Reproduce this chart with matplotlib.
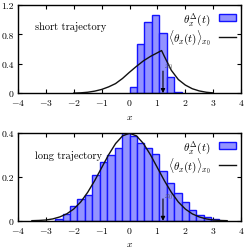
import numpy as np
import matplotlib
matplotlib.use('Agg')
import matplotlib.pyplot as plt

plt.rcParams['font.family'] = 'serif'
plt.rcParams['font.serif'] = ['cmr10']
plt.rcParams['mathtext.fontset'] = 'cm'
plt.rcParams['axes.formatter.use_mathtext'] = True
plt.rcParams['font.size'] = 7

bar_face = '#9393ff'
bar_edge = '#1414ff'

# ---- short trajectory (top)
short_left = [0.0, 0.267, 0.533, 0.8, 1.067, 1.333, 1.6]
short_hist = [0.08, 0.67, 0.97, 1.07, 0.82, 0.22, 0.02]
short_cx = [-2.0, -1.75, -1.5, -1.25, -1.0, -0.75, -0.5, -0.25, 0.0, 0.25, 0.5,
            0.75, 1.0, 1.15, 1.25, 1.5, 1.75, 2.0, 2.25, 2.5, 2.75, 3.0]
short_cy = [0.0, 0.004, 0.012, 0.027, 0.05, 0.085, 0.13, 0.2, 0.285, 0.365, 0.44,
            0.5, 0.55, 0.58, 0.5, 0.31, 0.185, 0.11, 0.06, 0.03, 0.012, 0.003]

# ---- long trajectory (bottom)
long_left = [-2.667, -2.4, -2.133, -1.867, -1.6, -1.333, -1.067, -0.8, -0.533, -0.267, 0.0,
             0.267, 0.533, 0.8, 1.067, 1.333, 1.6, 1.867, 2.133, 2.4, 2.667, 2.933]
long_hist = [0.01, 0.03, 0.07, 0.10, 0.12, 0.21, 0.27, 0.30, 0.33, 0.40, 0.385,
             0.355, 0.33, 0.305, 0.227, 0.174, 0.128, 0.086, 0.05, 0.025, 0.018, 0.01]
long_cx = [-3.5, -3.25, -3.0, -2.75, -2.5, -2.25, -2.0, -1.75, -1.5, -1.25, -1.0, -0.75, -0.5, -0.25,
           0.0, 0.25, 0.5, 0.75, 1.0, 1.25, 1.5, 1.75, 2.0, 2.25, 2.5, 2.75, 3.0, 3.25, 3.5]
long_cy = [0.001, 0.002, 0.004, 0.009, 0.018, 0.032, 0.054, 0.086, 0.13, 0.183, 0.242, 0.301, 0.352, 0.387,
           0.399, 0.387, 0.352, 0.301, 0.242, 0.183, 0.13, 0.086, 0.054, 0.032, 0.018, 0.009, 0.004, 0.002, 0.001]

bin_w = 0.267
x0 = 1.2

fig = plt.figure(figsize=(2.46, 2.51), dpi=100)
ax1 = fig.add_axes([0.073, 0.625, 0.907, 0.351])
ax2 = fig.add_axes([0.073, 0.116, 0.907, 0.350])


def panel(ax, left, hist, cx, cy, ymax, yticks, label, label_y, arrow_top, lab_y):
    bars = ax.bar(left, hist, width=bin_w, align='edge', color=bar_face, edgecolor=bar_edge,
                  linewidth=1.0, zorder=2)
    line, = ax.plot(cx, cy, color='#111111', lw=1.0, zorder=3)
    ax.annotate('', xy=(x0, 0), xytext=(x0, arrow_top),
                arrowprops=dict(arrowstyle='-|>', color='black', lw=0.8,
                                mutation_scale=6, shrinkA=0, shrinkB=0), zorder=4)
    ax.text(x0 + 0.03, lab_y, r'$x_0$', fontsize=6, color='#555555', va='bottom', zorder=4)
    ax.text(-3.4, label_y, label, fontsize=7.5, va='center')
    ax.set_xlim(-4, 4)
    ax.set_ylim(0, ymax)
    ax.set_xticks(np.arange(-4, 5))
    ax.set_xticklabels(['$-4$', '$-3$', '$-2$', '$-1$', '$0$', '$1$', '$2$', '$3$', '$4$'])
    ax.set_yticks(yticks)
    ax.set_yticklabels([('%g' % t) for t in yticks])
    ax.tick_params(direction='in', top=True, right=True, length=3, width=0.8, pad=3)
    for s in ax.spines.values():
        s.set_linewidth(1.0)
    ax.set_xlabel('$x$', labelpad=3.5)
    ax.legend([bars, line], [r'$\theta_x^{\Delta}(t)$', r'$\langle\theta_x(t)\rangle_{x_0}$'],
              loc='upper right', frameon=False, markerfirst=False, handlelength=1.5,
              handleheight=0.7, labelspacing=0.05, borderaxespad=0.05, fontsize=8)


panel(ax1, short_left, short_hist, short_cx, short_cy, 1.2, [0, 0.4, 0.8, 1.2],
      'short trajectory', 0.91, 0.3, 0.3)
panel(ax2, long_left, long_hist, long_cx, long_cy, 0.4, [0, 0.2, 0.4],
      'long trajectory', 0.30, 0.1, 0.09)

fig.savefig('out.png', dpi=100)
